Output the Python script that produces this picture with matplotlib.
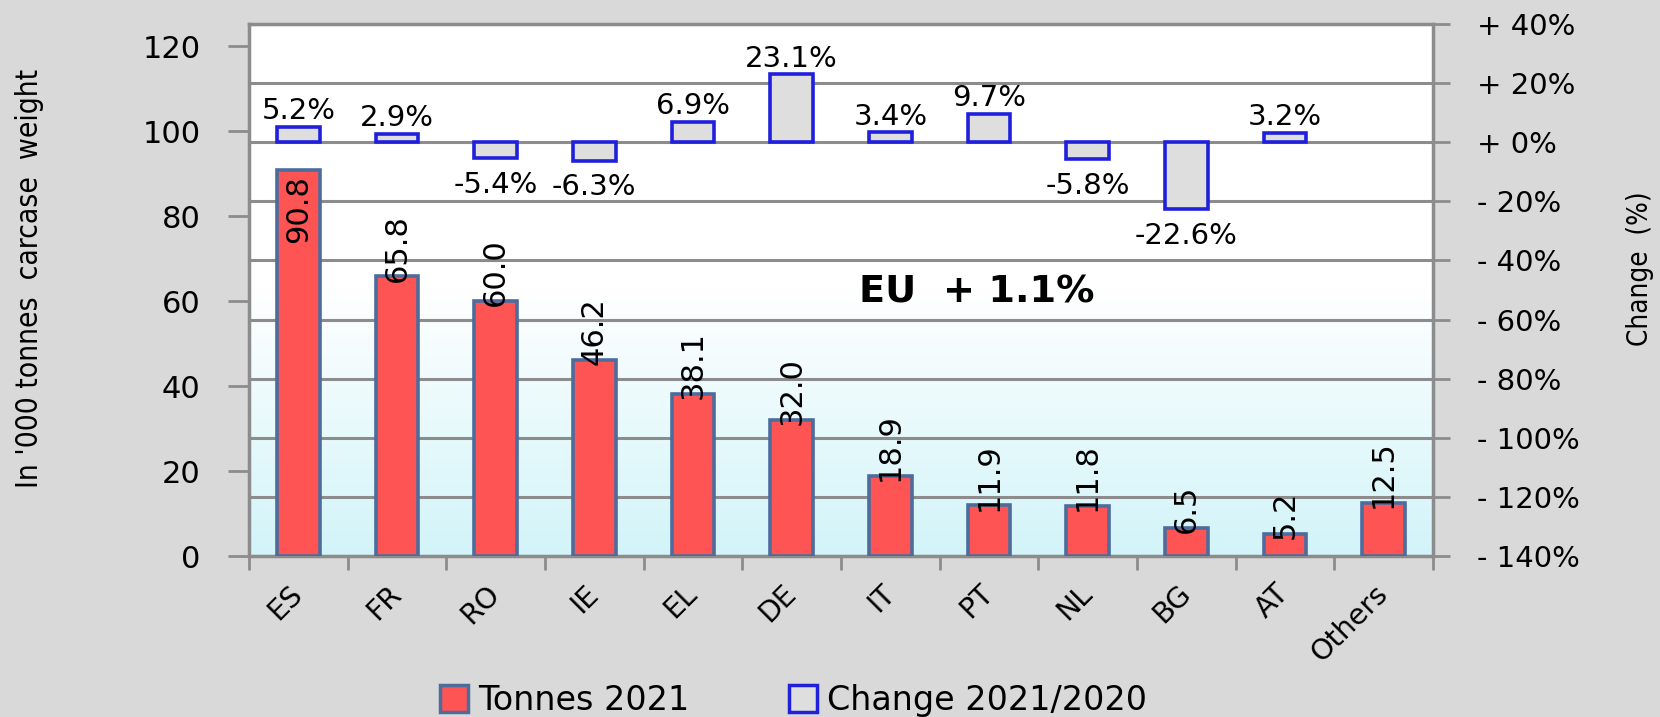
import numpy as np
import matplotlib
matplotlib.use('Agg')
import matplotlib.pyplot as plt
from matplotlib.patches import Patch
from matplotlib.colors import to_rgb

# data
countries = ['ES', 'FR', 'RO', 'IE', 'EL', 'DE', 'IT', 'PT', 'NL', 'BG', 'AT', 'Others']
tonnes_2021 = [90.8, 65.8, 60.0, 46.2, 38.1, 32.0, 18.9, 11.9, 11.8, 6.5, 5.2, 12.5]
change_pct = [5.2, 2.9, -5.4, -6.3, 6.9, 23.1, 3.4, 9.7, -5.8, -22.6, 3.2, np.nan]
left_ticks = [0, 20, 40, 60, 80, 100, 120]
right_ticks = [-140, -120, -100, -80, -60, -40, -20, 0, 20, 40]

red = '#ff5454'
red_edge = '#4c6c9e'
gray_fill = '#dedede'
blue_edge = '#2020dc'
axis_gray = '#8c8c8c'

plt.rcParams['font.family'] = ['DejaVu Sans']

fig = plt.figure(figsize=(16.6, 7.17), dpi=100, facecolor='#d9d9d9')
ax = fig.add_axes([249/1660, 1-556/717, 1184/1660, 532/717])
ax2 = ax.twinx()
ax.set_zorder(ax2.get_zorder() + 1)
ax.patch.set_visible(False)

x = np.arange(len(countries))

# fond en dégradé : blanc en haut, cyan clair en bas
n = 256
yy = np.linspace(1, 0, n)
top = np.array(to_rgb('white'))
bot = np.array(to_rgb('#d2f4f9'))
frac = np.clip((0.5 - yy) / 0.5, 0, 1)[:, None]
grad = top * (1 - frac) + bot * frac
ax2.imshow(grad[:, None, :], extent=[0, 1, 0, 1], transform=ax2.transAxes,
           aspect='auto', zorder=-1)

# change bars (right axis)
ax2.bar(x, change_pct, width=0.43, color=gray_fill, edgecolor=blue_edge, linewidth=2.6, zorder=2)
for xi, c in zip(x, change_pct):
    if np.isnan(c):
        continue
    if c >= 0:
        ax2.annotate(f'{c:.1f}%', (xi, c), xytext=(0, 1), textcoords='offset points',
                     ha='center', va='bottom', fontsize=21)
    else:
        ax2.annotate(f'{c:.1f}%', (xi, c), xytext=(0, -9), textcoords='offset points',
                     ha='center', va='top', fontsize=21)

ax2.set_ylim(-140, 40)
ax2.set_yticks(right_ticks)
ax2.set_yticklabels([('+ ' if t >= 0 else '- ') + f'{abs(t)}%' for t in right_ticks], fontsize=21)
ax2.tick_params(axis='y', direction='out', length=12, width=2, color=axis_gray, pad=20)
ax2.set_axisbelow(True)
ax2.yaxis.grid(True, color=axis_gray, linewidth=2.2)
for s in ax2.spines.values():
    s.set_visible(False)

# tonnes bars (left axis)
ax.bar(x, tonnes_2021, width=0.43, color=red, edgecolor=red_edge, linewidth=2.6, zorder=3)
for i, (xi, v) in enumerate(zip(x, tonnes_2021)):
    if i == 0:
        ax.text(xi, v - 1.2, f'{v:.1f}', rotation=90, ha='center', va='top', fontsize=22, zorder=4)
    else:
        ax.text(xi, v - 1.2, f'{v:.1f}', rotation=90, ha='center', va='bottom', fontsize=22, zorder=4)

ax.set_xlim(-0.5, len(countries) - 0.5)
ax2.set_xlim(-0.5, len(countries) - 0.5)
ax.set_ylim(0, 125.2)
ax.set_yticks(left_ticks)
ax.set_yticklabels([str(t) for t in left_ticks], fontsize=22)
ax.tick_params(axis='y', direction='out', length=15, width=2, color=axis_gray, pad=20)

ax.set_xticks(x)
ax.set_xticks(np.arange(-0.5, len(countries)), minor=True)
ax.tick_params(axis='x', which='major', direction='in', length=5, width=2, color=axis_gray, pad=24)
ax.tick_params(axis='x', which='minor', direction='out', length=10, width=2, color=axis_gray)
ax.set_xticklabels(countries, fontsize=20.5, rotation=45, ha='right', va='center', rotation_mode='anchor')

for s in ax.spines.values():
    s.set_color(axis_gray)
    s.set_linewidth(2.5)

ax.text(6.88, 61.9, 'EU  + 1.1%', fontsize=27.5, fontweight='bold', ha='center', va='center')

fig.text(0.018, 0.612, "In '000 tonnes  carcase  weight", rotation=90, ha='center', va='center',
         fontsize=21.5, fontstretch='condensed')
fig.text(0.988, 0.625, 'Change  (%)', rotation=90, ha='center', va='center',
         fontsize=20, fontstretch='condensed')

handles = [Patch(facecolor=red, edgecolor=red_edge, linewidth=2.5, label='Tonnes 2021'),
           Patch(facecolor=gray_fill, edgecolor=blue_edge, linewidth=2.5, label='Change 2021/2020')]
fig.legend(handles=handles, loc='center', bbox_to_anchor=(0.478, 0.023), ncol=2, frameon=False,
           fontsize=24, handlelength=0.85, handleheight=0.85, handletextpad=0.3, columnspacing=3.0)

fig.savefig('out.png', dpi=100, facecolor=fig.get_facecolor())
